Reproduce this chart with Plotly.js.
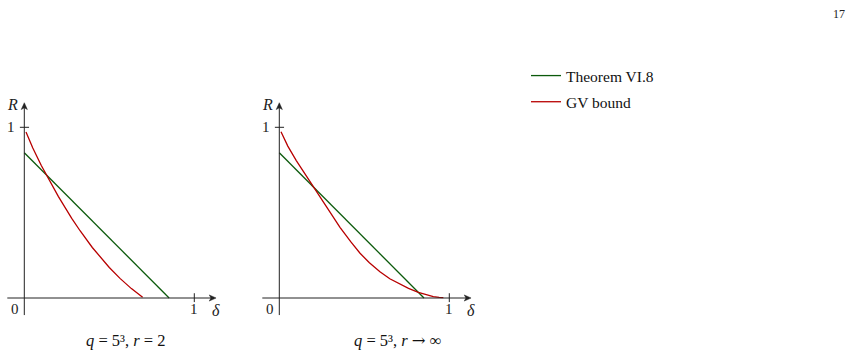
<!DOCTYPE html>
<html>
<head>
<meta charset="utf-8">
<script src="https://cdn.plot.ly/plotly-3.0.1.min.js"></script>
<style>html,body{margin:0;padding:0;background:#fff;}#chart{width:852px;height:356px;}</style>
</head>
<body>
<div id="chart"></div>
<script>
// ---- data ----
var seriesNames = ["Theorem VI.8", "GV bound"];
var panelTitles = ["<i>q</i> = 5³, <i>r</i> = 2",
                   "<i>q</i> = 5³, <i>r</i> <span style=\"font-family:'DejaVu Serif'\">→</span> ∞"];

var thmDeltaLeft = [0, 0.852];
var thmRLeft     = [0.851, 0];
var gvDeltaLeft  = [0.01, 0.05, 0.1, 0.135, 0.2, 0.279, 0.328, 0.4, 0.445, 0.5, 0.563, 0.63, 0.696];
var gvRLeft      = [0.973, 0.879, 0.776, 0.711, 0.595, 0.467, 0.394, 0.296, 0.242, 0.179, 0.115, 0.055, 0.004];

var thmDeltaRight = [0, 0.851];
var thmRRight     = [0.851, 0];
var gvDeltaRight  = [0.01, 0.05, 0.1, 0.181, 0.25, 0.318, 0.357, 0.42, 0.475, 0.53, 0.592, 0.65, 0.71, 0.76, 0.818, 0.86, 0.906, 0.94, 0.965];
var gvRRight      = [0.974, 0.89, 0.805, 0.681, 0.571, 0.469, 0.414, 0.330, 0.262, 0.207, 0.154, 0.113, 0.080, 0.056, 0.033, 0.0195, 0.008, 0.004, 0.002];

var xTickVals = [1];
var yTickVals = [1];
var xTickText = ["1"];
var yTickText = ["1"];
var originText = "0";
var xAxisName = "δ";
var yAxisName = "R";
var pageNumber = "17";

// ---- styling / geometry ----
var W = 852, H = 356;
var green = "#0b5a0b", red = "#b80000";
var axisColor = "#222";
var serif = "'Liberation Serif', 'Times New Roman', serif";
var panels = [
  {ox: 24.3, oy: 298, sx: 170, sy: 170.7, xs: "x", ys: "y", xa: "xaxis", ya: "yaxis"},
  {ox: 279.3, oy: 298, sx: 170, sy: 170.7, xs: "x2", ys: "y2", xa: "xaxis2", ya: "yaxis2"}
];
var xr = [-0.14, 1.22], yr = [-0.2, 1.25];
var axLo = -0.1, xTip = 1.128, yTip = 1.144;
var headL = 0.04, headW = 0.018;

var layout = {
  width: W, height: H,
  margin: {l: 0, r: 0, t: 0, b: 0},
  paper_bgcolor: "#fff", plot_bgcolor: "rgba(0,0,0,0)",
  showlegend: true,
  legend: {x: 526 / W, y: 1 - 59 / H, xanchor: "left", yanchor: "top",
           font: {family: serif, size: 15.5, color: "#111"},
           bgcolor: "rgba(0,0,0,0)", tracegroupgap: 3, traceorder: "grouped"},
  annotations: [], shapes: []
};

panels.forEach(function(p, i) {
  var axStyle = {visible: false, showgrid: false, zeroline: false, showline: false, showticklabels: false, ticks: "", fixedrange: true};
  layout[p.xa] = Object.assign({}, axStyle, {
    range: xr, anchor: p.ys,
    domain: [(p.ox + xr[0] * p.sx) / W, (p.ox + xr[1] * p.sx) / W]
  });
  layout[p.ya] = Object.assign({}, axStyle, {
    range: yr, anchor: p.xs,
    domain: [(H - (p.oy - yr[0] * p.sy)) / H, (H - (p.oy - yr[1] * p.sy)) / H]
  });
  // axis lines
  layout.shapes.push({type: "line", xref: p.xs, yref: p.ys, x0: axLo, x1: xTip - headL * 0.6, y0: 0, y1: 0,
    line: {color: axisColor, width: 1}});
  layout.shapes.push({type: "line", xref: p.xs, yref: p.ys, x0: 0, x1: 0, y0: axLo, y1: yTip - headL * 0.6,
    line: {color: axisColor, width: 1}});
  // arrow heads
  layout.shapes.push({type: "path", xref: p.xs, yref: p.ys,
    path: "M" + xTip + ",0 L" + (xTip - headL) + "," + headW + " L" + (xTip - headL * 0.75) + ",0 L" + (xTip - headL) + "," + (-headW) + " Z",
    fillcolor: axisColor, line: {color: axisColor, width: 0.5}});
  layout.shapes.push({type: "path", xref: p.xs, yref: p.ys,
    path: "M0," + yTip + " L" + headW + "," + (yTip - headL) + " L0," + (yTip - headL * 0.75) + " L" + (-headW) + "," + (yTip - headL) + " Z",
    fillcolor: axisColor, line: {color: axisColor, width: 0.5}});
  // ticks
  xTickVals.forEach(function(v, k) {
    layout.shapes.push({type: "line", xref: p.xs, yref: p.ys, x0: v, x1: v, y0: -0.024, y1: 0.028,
      line: {color: axisColor, width: 1}});
    layout.annotations.push({xref: p.xs, yref: p.ys, x: v, y: 0, yshift: -11, xanchor: "center", yanchor: "middle",
      text: xTickText[k], showarrow: false, font: {family: serif, size: 15, color: "#222"}});
  });
  yTickVals.forEach(function(v, k) {
    layout.shapes.push({type: "line", xref: p.xs, yref: p.ys, x0: -0.026, x1: 0.028, y0: v, y1: v,
      line: {color: axisColor, width: 1}});
    layout.annotations.push({xref: p.xs, yref: p.ys, x: 0, y: v, xshift: -13, xanchor: "center", yanchor: "middle",
      text: yTickText[k], showarrow: false, font: {family: serif, size: 15, color: "#222"}});
  });
  layout.annotations.push({xref: p.xs, yref: p.ys, x: 0, y: 0, xshift: -9, yshift: -11, xanchor: "center", yanchor: "middle",
    text: originText, showarrow: false, font: {family: serif, size: 15, color: "#222"}});
  layout.annotations.push({xref: p.xs, yref: p.ys, x: xTip, y: 0, xshift: 0, yshift: -12, xanchor: "center", yanchor: "middle",
    text: "<i>" + xAxisName + "</i>", showarrow: false, font: {family: serif, size: 16, color: "#222"}});
  layout.annotations.push({xref: p.xs, yref: p.ys, x: 0, y: yTip, xshift: -12, yshift: -2, xanchor: "center", yanchor: "middle",
    text: "<i>" + yAxisName + "</i>", showarrow: false, font: {family: serif, size: 16, color: "#222"}});
  // panel title
  layout.annotations.push({xref: "paper", yref: "paper", x: (i === 0 ? 126 : 398) / W, y: (H - 340) / H,
    xanchor: "center", yanchor: "middle",
    text: panelTitles[i], showarrow: false, font: {family: serif, size: 16.5, color: "#111"}});
});

layout.annotations.push({xref: "paper", yref: "paper", x: 839 / W, y: (H - 14) / H, xanchor: "center", yanchor: "middle",
  text: pageNumber, showarrow: false, font: {family: serif, size: 12, color: "#222"}});

var data = [
  {x: thmDeltaLeft, y: thmRLeft, xaxis: "x", yaxis: "y", mode: "lines", name: seriesNames[0],
   legendgroup: "a", line: {color: green, width: 1.3}},
  {x: gvDeltaLeft, y: gvRLeft, xaxis: "x", yaxis: "y", mode: "lines", name: seriesNames[1],
   legendgroup: "b", line: {color: red, width: 1.3}},
  {x: thmDeltaRight, y: thmRRight, xaxis: "x2", yaxis: "y2", mode: "lines", name: seriesNames[0],
   legendgroup: "a", showlegend: false, line: {color: green, width: 1.3}},
  {x: gvDeltaRight, y: gvRRight, xaxis: "x2", yaxis: "y2", mode: "lines", name: seriesNames[1],
   legendgroup: "b", showlegend: false, line: {color: red, width: 1.3}}
];

Plotly.newPlot("chart", data, layout, {staticPlot: true, displayModeBar: false});
</script>
</body>
</html>
